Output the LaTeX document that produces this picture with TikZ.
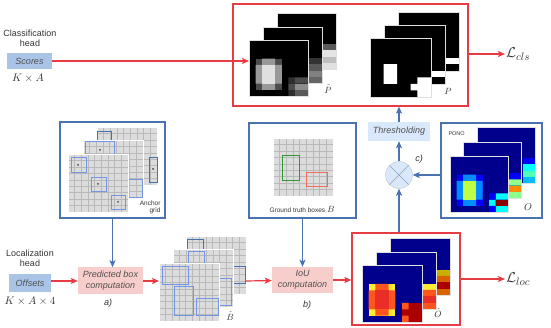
\documentclass[tikz,border=0pt]{standalone}
\usepackage{amsmath}
\usepackage{amssymb}
\usepackage[no-math]{fontspec}
\setmainfont{Liberation Sans}
\usepackage{xcolor}
\usepackage{tikz}
\usetikzlibrary{arrows.meta}
\definecolor{lossred}{RGB}{232,60,68}
\definecolor{frameblue}{RGB}{74,114,176}
\definecolor{headblue}{RGB}{169,196,230}
\definecolor{opblue}{RGB}{218,232,252}
\definecolor{oppink}{RGB}{248,206,204}
\definecolor{txtgray}{RGB}{80,80,80}
\definecolor{planegray}{RGB}{220,220,220}
\definecolor{gridgray}{RGB}{185,185,185}
\definecolor{anchorblue}{RGB}{115,150,228}
\definecolor{anchordark}{RGB}{70,115,175}
\definecolor{gtgreen}{RGB}{50,150,50}
\definecolor{gtred}{RGB}{240,110,90}
\definecolor{jnavy}{RGB}{0,0,140}
\definecolor{jblue}{RGB}{0,0,255}
\definecolor{jazure}{RGB}{0,140,255}
\definecolor{jcyan}{RGB}{0,255,255}
\definecolor{jlime}{RGB}{190,255,70}
\definecolor{jmint}{RGB}{140,255,140}
\definecolor{jaqua}{RGB}{80,255,180}
\definecolor{jsky}{RGB}{0,190,255}
\definecolor{jorange}{RGB}{255,140,0}
\definecolor{jdarkred}{RGB}{140,0,0}
\definecolor{hyellow}{RGB}{255,235,50}
\definecolor{hred}{RGB}{235,45,40}
\definecolor{horange}{RGB}{255,85,30}
\definecolor{hdarkred}{RGB}{170,0,0}
\definecolor{holive}{RGB}{200,175,0}
\definecolor{hamber}{RGB}{215,100,0}
\tikzset{rarrow/.style={draw=lossred,line width=1.2pt,-{Stealth[length=7pt,width=6pt,inset=1.5pt]}},
  barrow/.style={draw=frameblue,line width=1.2pt,-{Stealth[length=7pt,width=6pt,inset=1.5pt]}},
  rframe/.style={draw=lossred,line width=1.2pt},
  bframe/.style={draw=frameblue,line width=1.2pt},
  headbox/.style={fill=headblue,text=txtgray,font=\fontsize{9}{11}\selectfont\itshape},
  opbox/.style={fill=#1,text=txtgray,align=center,font=\fontsize{9}{11}\selectfont\itshape},
  sqedge/.style={draw=gray!25,line width=0.7pt},
  plane/.style={step=1},
  anchorline/.style={draw=#1,line width=0.8pt}
}

\begin{document}
\begin{tikzpicture}[x=1pt,y=-1pt]
  \useasboundingbox (0,0) rectangle (551,328);
  \begin{scope}[every node/.style={inner sep=0}]
    \node[rframe, minimum width=235pt, minimum height=102pt] (topbox) at (350.5,55) {};
    \node[rframe, minimum width=108pt, minimum height=92pt] (ohatbox) at (406,279) {};
    \node[bframe, minimum width=105pt, minimum height=96pt] (anchorbox) at (112.5,170) {};
    \node[bframe, minimum width=107pt, minimum height=95pt] (gtbox) at (302.5,170.5) {};
    \node[bframe, minimum width=101pt, minimum height=95pt] (ponobox) at (491.5,170.5) {};
    \node[headbox, minimum width=45pt, minimum height=16pt] (scores) at (29.5,61) {Scores};
    \node[headbox, minimum width=42pt, minimum height=18pt] (offsets) at (30,283) {Offsets};
    \node[opbox=oppink, minimum width=65pt, minimum height=27pt] (predbox) at (110.5,281) {Predicted box\\computation};
    \node[opbox=oppink, minimum width=61pt, minimum height=26pt] (iou) at (302.5,280) {IoU\\computation};
    \node[opbox=opblue, minimum width=62pt, minimum height=19pt] (thresh) at (399,131.5) {Thresholding};
    \node[circle, fill=opblue, draw=opblue!85!black, minimum size=27pt] (mult) at (399,175) {};
  \end{scope}
  \coordinate (phatin) at (249,61);
  \coordinate (bhatin) at (159,281);
  \coordinate (bhatout) at (246,281);
  \draw[opblue!70!black, line width=0.5pt] (mult.45) -- (mult.225) (mult.135) -- (mult.315);
  % texts
  \begin{scope}[every node/.style={text=black!80, font=\fontsize{9}{10}\selectfont}]
    \node[align=center] (clshead) at (30,38) {Classification\\head};
    \node[align=center] (lochead) at (30,258) {Localization\\head};
    \node[font=\fontsize{10.5}{12}\selectfont] (scoresdim) at (28,78) {$K\times A$};
    \node[font=\fontsize{10.5}{12}\selectfont] (offsetsdim) at (30,301) {$K\times A\times 4$};
    \node[font=\fontsize{9}{10}\selectfont\itshape] (lblA) at (108,303) {a)};
    \node[font=\fontsize{9}{10}\selectfont\itshape] (lblB) at (307,305) {b)};
    \node[font=\fontsize{9}{10}\selectfont\itshape] (lblC) at (419,159) {c)};
    \node (phatlbl) at (328,89) {$\hat{P}$};
    \node (plbl) at (448,91) {$P$};
    \node (bhatlbl) at (230,316) {$\hat{B}$};
    \node (ohatlbl) at (438,313) {$\hat{O}$};
    \node[font=\fontsize{10}{12}\selectfont] (olbl) at (528,207) {$O$};
    \node[align=right, anchor=east, font=\fontsize{6.5}{7.5}\selectfont] (anchortxt) at (164,207.5) {Anchor\\grid};
    \node[font=\fontsize{6.5}{8}\selectfont] (gttxt) at (302,209) {Ground truth boxes {\fontsize{9}{10}\selectfont$B$}};
    \node[anchor=west, font=\fontsize{5.5}{7}\selectfont] (ponotxt) at (445,134) {PONO};
    \node[anchor=west, inner sep=1pt, font=\fontsize{15}{17}\selectfont] (lcls) at (505,54) {$\mathcal{L}_{cls}$};
    \node[anchor=west, inner sep=1pt, font=\fontsize{15}{17}\selectfont] (lloc) at (505,279) {$\mathcal{L}_{loc}$};
  \end{scope}
  % anchor grid
  \begin{scope}[shift={(97,185)}, x=6.67pt, y=6.44pt, plane]
    \fill[planegray] (0,0) rectangle (9,9);
    \draw[gridgray, line width=0.4pt] (0,0) grid (9,9);
    \draw[white, line width=0.8pt] (0,0) rectangle (9,9);
  \end{scope}
  \draw[anchorline=anchordark] (97,131) rectangle (111,146) (149,157) rectangle (157,182);
  \fill[black!70] (153,169) circle (1pt);
  \begin{scope}[shift={(83,198)}, x=6.67pt, y=6.44pt, plane]
    \fill[planegray] (0,0) rectangle (9,9);
    \draw[gridgray, line width=0.4pt] (0,0) grid (9,9);
    \draw[white, line width=0.8pt] (0,0) rectangle (9,9);
  \end{scope}
  \draw[anchorline=anchorblue] (85,141) rectangle (114,168) (118,179) rectangle (142,197);
  \fill[black!70] (100,150) circle (1pt);
  \begin{scope}[shift={(68,212)}, x=6.67pt, y=6.44pt, plane]
    \fill[planegray] (0,0) rectangle (9,9);
    \draw[gridgray, line width=0.4pt] (0,0) grid (9,9);
    \draw[white, line width=0.8pt] (0,0) rectangle (9,9);
  \end{scope}
  \draw[anchorline=anchorblue] (71,157) rectangle (86,172) (91,177) rectangle (106,191) (111,195) rectangle (125,209);
  \fill[black!70] (78,165) circle (1pt) (98,184) circle (1pt) (118,202) circle (1pt);
  % ground truth
  \begin{scope}[shift={(273,196)}, x=6.67pt, y=6.44pt, plane]
    \fill[planegray] (0,0) rectangle (9,9);
    \draw[gridgray, line width=0.4pt] (0,0) grid (9,9);
    \draw[white, line width=0.8pt] (0,0) rectangle (9,9);
  \end{scope}
  \draw[anchorline=gtgreen] (282,155) rectangle (299,180);
  \draw[anchorline=gtred] (306,172) rectangle (327,186);
  % predicted boxes
  \begin{scope}[shift={(186,294)}, x=6.67pt, y=6.44pt, plane]
    \fill[planegray] (0,0) rectangle (9,9);
    \draw[gridgray, line width=0.4pt] (0,0) grid (9,9);
    \draw[white, line width=0.8pt] (0,0) rectangle (9,9);
  \end{scope}
  \draw[anchorline=anchordark] (187,239) rectangle (203,256) (233,266) rectangle (245,283);
  \begin{scope}[shift={(173,307)}, x=6.67pt, y=6.44pt, plane]
    \fill[planegray] (0,0) rectangle (9,9);
    \draw[gridgray, line width=0.4pt] (0,0) grid (9,9);
    \draw[white, line width=0.8pt] (0,0) rectangle (9,9);
  \end{scope}
  \draw[anchorline=anchorblue] (188,251) rectangle (204,268) (219,278) rectangle (231,305);
  \begin{scope}[shift={(159,321)}, x=6.67pt, y=6.44pt, plane]
    \fill[planegray] (0,0) rectangle (9,9);
    \draw[gridgray, line width=0.4pt] (0,0) grid (9,9);
    \draw[white, line width=0.8pt] (0,0) rectangle (9,9);
  \end{scope}
  \draw[anchorline=anchorblue] (162,266) rectangle (188,284) (174,286) rectangle (193,315) (196,298) rectangle (218,315);
  % scores P hat
  \begin{scope}[shift={(277,13)}, x=6.56pt, y=-6.22pt]
    \fill[black] (0,0) rectangle (9,9);
    \fill[white!35!black] (7,5) rectangle (9,6);
    \fill[white!90!black] (7,6) rectangle (9,7);
    \fill[white!75!black] (7,7) rectangle (9,8);
    \fill[white!88!black] (7,8) rectangle (9,9);
    \draw[sqedge] (0,0) rectangle (9,9);
  \end{scope}
  \begin{scope}[shift={(263,27)}, x=6.56pt, y=-6.22pt]
    \fill[black] (0,0) rectangle (9,9);
    \fill[white!20!black] (7,5) rectangle (9,6);
    \fill[white!35!black] (7,6) rectangle (9,7);
    \fill[white!50!black] (7,7) rectangle (9,8);
    \fill[white!40!black] (7,8) rectangle (9,9);
    \draw[sqedge] (0,0) rectangle (9,9);
  \end{scope}
  \begin{scope}[shift={(249,40)}, x=6.56pt, y=-6.22pt]
    \fill[black] (0,0) rectangle (9,9);
    \fill[white!30!black] (1,3) rectangle (5,8);
    \fill[white!60!black] (2,3) rectangle (4,8) (1,4) rectangle (5,7);
    \fill[white!88!black] (2,4) rectangle (4,7);
    \fill[white!18!black] (6,6) rectangle (7,7) (6,8) rectangle (7,9);
    \fill[white!30!black] (7,6) rectangle (9,7) (6,7) rectangle (7,8);
    \fill[white!55!black] (7,7) rectangle (9,8);
    \fill[white!35!black] (7,8) rectangle (9,9);
    \draw[sqedge] (0,0) rectangle (9,9);
  \end{scope}
  % thresholded P
  \begin{scope}[shift={(398,12)}, x=6.78pt, y=-6.56pt]
    \fill[black] (0,0) rectangle (9,9);
    \fill[white] (7,7) rectangle (9,8);
    \draw[sqedge] (0,0) rectangle (9,9);
  \end{scope}
  \begin{scope}[shift={(384,25)}, x=6.78pt, y=-6.56pt]
    \fill[black] (0,0) rectangle (9,9);
    \fill[white] (7,7) rectangle (9,8);
    \draw[sqedge] (0,0) rectangle (9,9);
  \end{scope}
  \begin{scope}[shift={(370,38)}, x=6.78pt, y=-6.56pt]
    \fill[black] (0,0) rectangle (9,9);
    \fill[white] (2,4) rectangle (4,7) (7,6) rectangle (9,9) (6,7) rectangle (7,8);
    \draw[sqedge] (0,0) rectangle (9,9);
  \end{scope}
  % PONO O
  \begin{scope}[shift={(477,127)}, x=6.5pt, y=-6.25pt]
    \fill[jnavy] (0,0) rectangle (9,9);
    \fill[jblue] (7,5) rectangle (9,6);
    \fill[jcyan] (7,6) rectangle (9,7);
    \fill[jaqua] (7,7) rectangle (9,8);
    \fill[jsky] (7,8) rectangle (9,9);
    \draw[sqedge] (0,0) rectangle (9,9);
  \end{scope}
  \begin{scope}[shift={(463,142)}, x=6.5pt, y=-6.25pt]
    \fill[jnavy] (0,0) rectangle (9,9);
    \fill[jblue] (7,5) rectangle (9,6);
    \fill[jmint] (7,6) rectangle (9,7) (7,8) rectangle (9,9);
    \fill[jorange] (7,7) rectangle (9,8);
    \draw[sqedge] (0,0) rectangle (9,9);
  \end{scope}
  \begin{scope}[shift={(450,156)}, x=6.5pt, y=-6.25pt]
    \fill[jnavy] (0,0) rectangle (9,9);
    \fill[jblue] (1,3) rectangle (5,8);
    \fill[jazure] (2,3) rectangle (4,8) (1,4) rectangle (5,7);
    \fill[jlime] (2,4) rectangle (4,7);
    \fill[jcyan] (7,6) rectangle (9,7) (6,7) rectangle (7,8) (7,8) rectangle (9,9);
    \fill[jdarkred] (7,7) rectangle (9,8);
    \fill[jblue] (6,6) rectangle (7,7) (6,8) rectangle (7,9);
    \draw[sqedge] (0,0) rectangle (9,9);
  \end{scope}
  % O hat
  \begin{scope}[shift={(390,238)}, x=6.67pt, y=-6.33pt]
    \fill[jnavy] (0,0) rectangle (9,9);
    \fill[holive] (7,5) rectangle (9,6);
    \fill[hamber] (7,6) rectangle (9,7) (7,8) rectangle (9,9);
    \fill[hdarkred] (7,7) rectangle (9,8);
    \draw[sqedge] (0,0) rectangle (9,9);
  \end{scope}
  \begin{scope}[shift={(376,252)}, x=6.67pt, y=-6.33pt]
    \fill[jnavy] (0,0) rectangle (9,9);
    \fill[hyellow] (7,5) rectangle (9,6);
    \fill[horange] (7,6) rectangle (9,7) (7,8) rectangle (9,9);
    \fill[hred] (7,7) rectangle (9,8);
    \draw[sqedge] (0,0) rectangle (9,9);
  \end{scope}
  \begin{scope}[shift={(362,265)}, x=6.67pt, y=-6.33pt]
    \fill[jnavy] (0,0) rectangle (9,9);
    \fill[hyellow] (1,3) rectangle (5,8);
    \fill[horange] (2,3) rectangle (4,8) (1,4) rectangle (5,7);
    \fill[hred] (2,4) rectangle (4,7);
    \fill[hdarkred] (6,6) rectangle (9,9);
    \fill[horange] (6,6) rectangle (7,7) (6,8) rectangle (7,9);
    \draw[sqedge] (0,0) rectangle (9,9);
  \end{scope}
  % connectors
  \begin{scope}[every node/.style={}]
    \path (scores) edge[rarrow] (phatin);
    \path (topbox.east |- lcls) edge[rarrow] (lcls);
    \path (offsets.east |- predbox) edge[rarrow] (predbox);
    \path (predbox) edge[rarrow] (bhatin);
    \path (bhatout) edge[rarrow] (iou);
    \path (iou) edge[rarrow] (iou -| ohatbox.west);
    \path (ohatbox.east |- lloc) edge[rarrow] (lloc);
    \path (anchorbox) edge[barrow] (anchorbox.south |- predbox.north);
    \path (gtbox) edge[barrow] (iou);
    \path (mult |- ohatbox.north) edge[barrow] (mult);
    \path (ponobox.west |- mult) edge[barrow] (mult);
    \path (mult) edge[barrow] (thresh);
    \path (thresh) edge[barrow] (thresh |- topbox.south);
  \end{scope}
\end{tikzpicture}
\end{document}
